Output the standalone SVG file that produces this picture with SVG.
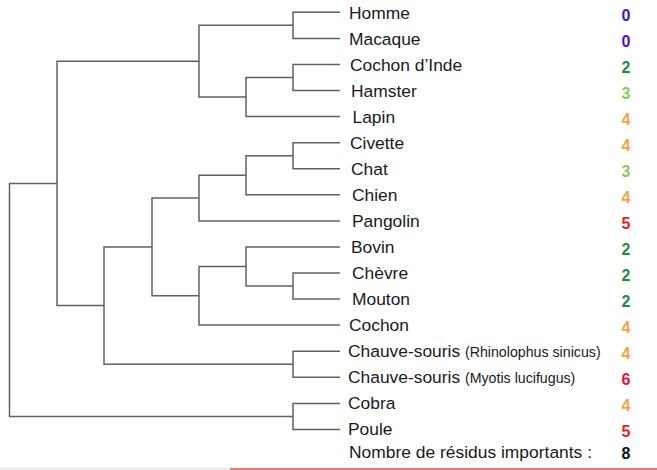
<svg xmlns="http://www.w3.org/2000/svg" width="657" height="470" viewBox="0 0 657 470">
<style>
.e{fill:none;stroke:#616161;stroke-width:1.5}
.t{font-family:"Liberation Sans",Arial,sans-serif;font-size:17.4px;fill:#1a1a1a}
.s{font-size:14.2px}
.n{font-family:"Liberation Sans",Arial,sans-serif;font-size:16px;font-weight:bold;text-anchor:middle}
.c0{fill:#4a12c4}.c2{fill:#17903c}.c3{fill:#86cc52}.c4{fill:#f2a43e}.c5{fill:#e8202c}.c6{fill:#e2123e}.c8{fill:#111}
</style>
<rect width="657" height="470" fill="#fff"/>
<g id="connectors">
<path class="e" d="M340 12.3H293V38.4H340"/>
<path class="e" d="M340 64.4H293V90.5H340"/>
<path class="e" d="M293 77.45H246V116.6H340"/>
<path class="e" d="M293 25.35H199V97H246"/>
<path class="e" d="M340 142.7H293V168.7H340"/>
<path class="e" d="M293 155.7H246V194.8H340"/>
<path class="e" d="M246 175.25H199V220.9H340"/>
<path class="e" d="M340 273H293V299.1H340"/>
<path class="e" d="M340 246.9H246V286.05H293"/>
<path class="e" d="M246 266.5H199V325.1H340"/>
<path class="e" d="M199 198.1H152V295.8H199"/>
<path class="e" d="M340 351.2H293V377.3H340"/>
<path class="e" d="M152 246.95H104V364.25H293"/>
<path class="e" d="M199 61.2H57V305.6H104"/>
<path class="e" d="M340 403.4H293V429.4H340"/>
<path class="e" d="M57 183.4H9.5V416.4H293"/>
</g>
<g id="homme"><text class="t" x="349" y="18.5">Homme</text><text class="n c0" x="626" y="20.5">0</text></g>
<g id="macaque"><text class="t" x="349" y="44.5">Macaque</text><text class="n c0" x="626" y="46.5">0</text></g>
<g id="cochon-inde"><text class="t" x="350" y="70.5">Cochon d’Inde</text><text class="n c2" x="626" y="72.5">2</text></g>
<g id="hamster"><text class="t" x="351" y="96.5">Hamster</text><text class="n c3" x="626" y="98.5">3</text></g>
<g id="lapin"><text class="t" x="352.5" y="122.5">Lapin</text><text class="n c4" x="626" y="124.5">4</text></g>
<g id="civette"><text class="t" x="350" y="148.7">Civette</text><text class="n c4" x="626" y="150.7">4</text></g>
<g id="chat"><text class="t" x="351" y="174.7">Chat</text><text class="n c3" x="626" y="176.7">3</text></g>
<g id="chien"><text class="t" x="352" y="200.8">Chien</text><text class="n c4" x="626" y="202.8">4</text></g>
<g id="pangolin"><text class="t" x="352" y="226.9">Pangolin</text><text class="n c5" x="626" y="228.9">5</text></g>
<g id="bovin"><text class="t" x="351" y="252.9">Bovin</text><text class="n c2" x="626" y="254.9">2</text></g>
<g id="chevre"><text class="t" x="352" y="279">Chèvre</text><text class="n c2" x="626" y="281">2</text></g>
<g id="mouton"><text class="t" x="352" y="305.1">Mouton</text><text class="n c2" x="626" y="307.1">2</text></g>
<g id="cochon"><text class="t" x="349" y="331.1">Cochon</text><text class="n c4" x="626" y="333.1">4</text></g>
<g id="chauve-souris-rhinolophus"><text class="t" x="348" y="357.2">Chauve-souris <tspan class="s">(Rhinolophus sinicus)</tspan></text><text class="n c4" x="626" y="359.2">4</text></g>
<g id="chauve-souris-myotis"><text class="t" x="348" y="383.3">Chauve-souris <tspan class="s">(Myotis lucifugus)</tspan></text><text class="n c6" x="626" y="385.3">6</text></g>
<g id="cobra"><text class="t" x="348" y="409.4">Cobra</text><text class="n c4" x="626" y="411.4">4</text></g>
<g id="poule"><text class="t" x="348" y="435.4">Poule</text><text class="n c5" x="626" y="437.4">5</text></g>
<g id="legende"><text class="t" x="349" y="458" textLength="243" lengthAdjust="spacing">Nombre de résidus importants :</text><text class="n c8" x="626" y="459">8</text></g>
<line x1="0" y1="468.5" x2="230" y2="468.5" stroke="#e4e4e4" stroke-width="1.5"/>
<line x1="230" y1="469" x2="657" y2="469" stroke="#ec7a68" stroke-width="1.8"/>
</svg>
